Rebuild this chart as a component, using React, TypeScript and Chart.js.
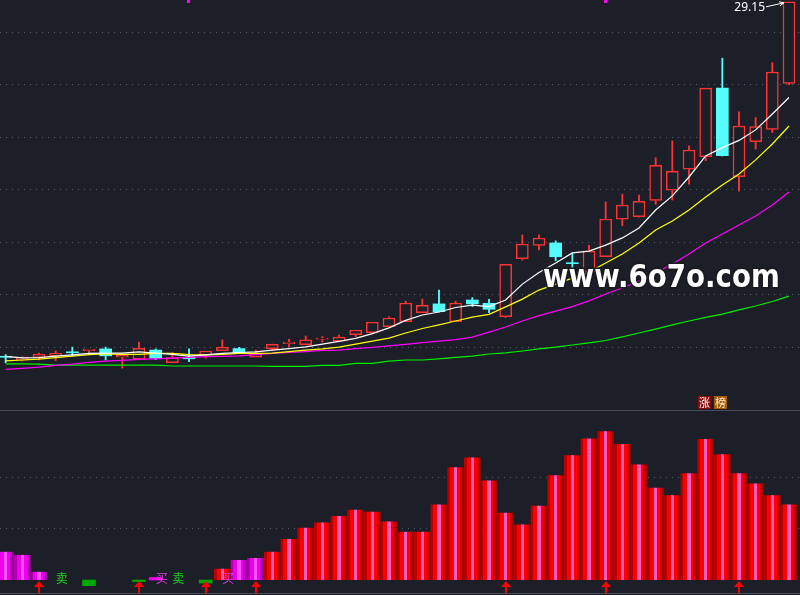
import React, { useEffect, useRef } from "react";
import { Chart, registerables } from "chart.js";

Chart.register(...registerables);

// ---------------- data ----------------
const opens = [17.33, 17.20, 17.29, 17.35, 17.48, 17.52, 17.58, 17.30, 17.24, 17.54, 17.12, 17.30, 17.37, 17.52, 17.59, 17.30, 17.59, 17.75, 17.72, 17.90, 17.84, 18.05, 18.12, 18.32, 18.49, 18.79, 19.08, 18.49, 19.21, 19.10, 18.65, 20.59, 21.03, 21.11, 20.44, 20.15, 20.65, 21.90, 21.99, 22.53, 22.87, 23.57, 23.99, 26.27, 23.32, 24.49, 24.90, 26.43];
const closes = [17.30, 17.29, 17.41, 17.43, 17.45, 17.57, 17.35, 17.37, 17.60, 17.27, 17.29, 17.25, 17.51, 17.63, 17.42, 17.41, 17.73, 17.81, 17.88, 17.94, 17.97, 18.21, 18.47, 18.61, 19.11, 19.03, 18.82, 19.11, 19.08, 18.90, 20.40, 21.07, 21.27, 20.65, 20.42, 20.84, 21.91, 22.37, 22.50, 23.70, 23.50, 24.21, 26.27, 24.02, 25.01, 24.99, 26.81, 29.15];
const highs = [17.39, 17.32, 17.44, 17.51, 17.64, 17.57, 17.64, 17.38, 17.81, 17.58, 17.45, 17.58, 17.51, 17.88, 17.63, 17.54, 17.74, 17.90, 18.01, 17.99, 18.04, 18.21, 18.47, 18.65, 19.17, 19.24, 19.54, 19.17, 19.29, 19.23, 20.40, 21.38, 21.38, 21.18, 20.77, 21.03, 22.48, 22.74, 22.71, 23.95, 24.51, 24.35, 26.27, 27.27, 25.48, 25.29, 27.12, 29.15];
const lows = [17.12, 17.18, 17.21, 17.19, 17.35, 17.43, 17.21, 16.94, 17.24, 17.22, 17.12, 17.15, 17.27, 17.52, 17.42, 17.30, 17.54, 17.65, 17.72, 17.81, 17.84, 17.99, 18.12, 18.32, 18.49, 18.79, 18.81, 18.49, 18.99, 18.79, 18.62, 20.54, 20.88, 20.52, 20.04, 20.14, 20.65, 21.69, 21.97, 22.40, 22.54, 23.07, 23.85, 24.01, 22.84, 24.24, 24.79, 26.39];

const ma5 = [17.33, 17.28, 17.29, 17.34, 17.38, 17.43, 17.44, 17.44, 17.48, 17.44, 17.40, 17.34, 17.38, 17.43, 17.46, 17.48, 17.54, 17.59, 17.65, 17.74, 17.83, 17.93, 18.09, 18.28, 18.53, 18.71, 18.81, 18.96, 19.04, 18.99, 19.21, 19.74, 20.13, 20.44, 20.78, 20.84, 21.04, 21.28, 21.61, 22.21, 22.68, 23.31, 24.01, 24.29, 24.53, 24.88, 25.41, 25.96];
const ma10 = [17.18, 17.21, 17.24, 17.29, 17.34, 17.39, 17.41, 17.40, 17.40, 17.43, 17.43, 17.39, 17.38, 17.40, 17.43, 17.43, 17.44, 17.49, 17.54, 17.58, 17.64, 17.74, 17.84, 17.94, 18.11, 18.26, 18.38, 18.51, 18.64, 18.73, 18.98, 19.24, 19.54, 19.74, 19.94, 20.14, 20.44, 20.74, 21.11, 21.54, 21.84, 22.21, 22.64, 23.04, 23.41, 23.88, 24.41, 25.01];
const ma20 = [16.90, 16.93, 16.97, 17.03, 17.07, 17.13, 17.17, 17.20, 17.23, 17.25, 17.27, 17.30, 17.32, 17.33, 17.35, 17.39, 17.43, 17.46, 17.49, 17.53, 17.54, 17.59, 17.63, 17.68, 17.73, 17.79, 17.84, 17.89, 17.97, 18.14, 18.31, 18.51, 18.69, 18.84, 18.99, 19.18, 19.41, 19.61, 19.84, 20.11, 20.41, 20.74, 21.11, 21.41, 21.71, 22.01, 22.38, 22.81];
const ma60 = [17.08, 17.08, 17.07, 17.04, 17.04, 17.04, 17.04, 17.04, 17.04, 17.04, 17.01, 17.01, 17.01, 17.01, 17.01, 17.01, 17.00, 17.00, 17.00, 17.03, 17.03, 17.10, 17.10, 17.17, 17.21, 17.21, 17.25, 17.30, 17.34, 17.41, 17.45, 17.51, 17.58, 17.64, 17.71, 17.78, 17.86, 17.98, 18.11, 18.24, 18.38, 18.51, 18.63, 18.74, 18.88, 19.01, 19.16, 19.34];

// lower panel indicator bars
const signal = [0.55, 0.49, 0.16, 0, 0, -0.11, 0, 0, -0.03, 0.05, 0, 0, -0.06, 0.22, 0.39, 0.43, 0.55, 0.80, 1.02, 1.12, 1.25, 1.37, 1.33, 1.14, 0.94, 0.94, 1.47, 2.20, 2.39, 1.94, 1.31, 1.08, 1.45, 2.04, 2.43, 2.76, 2.90, 2.65, 2.25, 1.80, 1.65, 2.08, 2.75, 2.45, 2.08, 1.88, 1.65, 1.47];
// R = red wide, M = magenta wide, g = green narrow, m = magenta narrow, - = none
const signalKind = ["M", "M", "M", "-", "-", "g", "-", "-", "g", "m", "-", "-", "g", "R", "M", "M", "R", "R", "R", "R", "R", "R", "R", "R", "R", "R", "R", "R", "R", "R", "R", "R", "R", "R", "R", "R", "R", "R", "R", "R", "R", "R", "R", "R", "R", "R", "R", "R"];

const sellIdx = [3, 10];
const buyIdx = [9, 13];
const arrowIdx = [2, 8, 12, 15, 30, 36, 44];
const topMarkIdx = [11, 36];
const tagIdx = [42, 43];
const tagText = ["涨", "榜"];
const sellText = "卖";
const buyText = "买";
const priceGrid = [17.63, 19.38, 21.13, 22.88, 24.63, 26.38, 28.13];
const signalGrid = [1, 2];
const watermarkText = "www.6o7o.com";

// ---------------- styles ----------------
const BG = "#1c1f27";
const RED = "#ff3333";
const CYAN = "#54fcfc";
const GRID = "#5a5f6a";
const X_MIN = -0.34;
const X_MAX = 47.66;

const RED_STOPS: [number, string][] = [
  [0, "#b80000"], [0.16, "#b80000"], [0.16, "#ff0000"], [0.4, "#ff0000"],
  [0.4, "#ff5cc0"], [0.6, "#ff5cc0"], [0.6, "#ff0000"], [0.76, "#ff0000"],
  [0.76, "#d00000"], [0.88, "#d00000"], [0.88, "#a00000"], [1, "#a00000"],
];
const MAG_STOPS: [number, string][] = [
  [0, "#b000b0"], [0.16, "#b000b0"], [0.16, "#ee00ee"], [0.4, "#ee00ee"],
  [0.4, "#ff50ff"], [0.6, "#ff50ff"], [0.6, "#ee00ee"], [0.76, "#ee00ee"],
  [0.76, "#c000c0"], [0.88, "#c000c0"], [0.88, "#9a009a"], [1, "#9a009a"],
];

export default function App() {
  const topRef = useRef<HTMLCanvasElement | null>(null);
  const botRef = useRef<HTMLCanvasElement | null>(null);

  useEffect(() => {
    const idx = opens.map((_, i) => i);
    const up = idx.filter((i) => closes[i] >= opens[i]);
    const down = idx.filter((i) => closes[i] < opens[i]);

    const line = (vals: number[], color: string) => ({
      type: "line",
      data: vals.map((v, i) => ({ x: i, y: v })),
      borderColor: color,
      borderWidth: 1.2,
      pointRadius: 0,
      tension: 0,
      order: 0,
    });

    const topDecor = {
      id: "topDecor",
      afterDatasetsDraw(chart: any) {
        const { ctx, chartArea } = chart;
        const xs = chart.scales.x;
        const ys = chart.scales.y;
        ctx.save();
        // small magenta marks at the top edge
        ctx.fillStyle = "#ff00ff";
        topMarkIdx.forEach((i) => {
          const px = xs.getPixelForValue(i);
          ctx.fillRect(Math.round(px) - 2, 0, 3, 3);
        });
        // watermark
        ctx.font = "bold 30px 'DejaVu Sans'";
        const w = ctx.measureText(watermarkText).width;
        const size = (30 * 237) / w;
        ctx.font = `bold ${size.toFixed(2)}px 'DejaVu Sans'`;
        ctx.textAlign = "left";
        ctx.textBaseline = "alphabetic";
        ctx.save();
        ctx.translate(chartArea.right - 257, 287);
        ctx.scale(1, 1.15);
        ctx.lineJoin = "round";
        ctx.lineWidth = 3;
        ctx.strokeStyle = "rgba(25,25,30,0.9)";
        ctx.strokeText(watermarkText, 0, 0);
        ctx.fillStyle = "#ffffff";
        ctx.fillText(watermarkText, 0, 0);
        ctx.restore();
        // highest price label
        let mi = 0;
        highs.forEach((h, i) => { if (h > highs[mi]) mi = i; });
        const px = xs.getPixelForValue(mi);
        const py = ys.getPixelForValue(highs[mi]);
        ctx.font = "12px 'Noto Sans'";
        ctx.textAlign = "right";
        ctx.textBaseline = "middle";
        ctx.fillStyle = "#ffffff";
        ctx.fillText(highs[mi].toFixed(2), px - 24, py + 6);
        ctx.strokeStyle = "#ffffff";
        ctx.lineWidth = 1;
        ctx.beginPath();
        ctx.moveTo(px - 23, py + 5);
        ctx.lineTo(px - 5, py + 1);
        ctx.stroke();
        ctx.beginPath();
        ctx.moveTo(px - 5, py + 1);
        ctx.lineTo(px - 10, py);
        ctx.moveTo(px - 5, py + 1);
        ctx.lineTo(px - 9, py + 4);
        ctx.stroke();
        // tags
        const tagBg = ["#8e0a0a", "#a35b0a"];
        const tagFg = ["#ffffff", "#ffe8c8"];
        ctx.font = "11px 'Noto Sans CJK SC'";
        ctx.textAlign = "center";
        ctx.textBaseline = "middle";
        tagIdx.forEach((i, k) => {
          const cx = xs.getPixelForValue(i);
          const left = Math.round(cx - 8);
          const top = chartArea.bottom - 14;
          ctx.fillStyle = tagBg[k];
          ctx.fillRect(left, top, 13, 13);
          ctx.fillStyle = tagFg[k];
          ctx.fillText(tagText[k], left + 6.5, top + 7);
        });
        ctx.restore();
      },
    };

    const top = new Chart(topRef.current as HTMLCanvasElement, {
      type: "bar",
      data: {
        datasets: [
          line(ma5, "#ffffff"),
          line(ma10, "#ffff00"),
          line(ma20, "#ff00ff"),
          line(ma60, "#00ee00"),
          {
            type: "bar",
            data: up.filter((i) => highs[i] > closes[i]).map((i) => ({ x: i, y: [closes[i], highs[i]] })),
            backgroundColor: RED, borderWidth: 0, barThickness: 1.2, grouped: false, order: 3,
          },
          {
            type: "bar",
            data: up.filter((i) => lows[i] < opens[i]).map((i) => ({ x: i, y: [lows[i], opens[i]] })),
            backgroundColor: RED, borderWidth: 0, barThickness: 1.2, grouped: false, order: 3,
          },
          {
            type: "bar",
            data: down.map((i) => ({ x: i, y: [lows[i], highs[i]] })),
            backgroundColor: CYAN, borderWidth: 0, barThickness: 1.2, grouped: false, order: 3,
          },
          {
            type: "bar",
            data: up.map((i) => ({ x: i, y: [opens[i], closes[i]] })),
            backgroundColor: BG, borderColor: RED, borderWidth: 1.5, borderSkipped: false,
            barThickness: 12, grouped: false, order: 2, minBarLength: 1,
          },
          {
            type: "bar",
            data: down.map((i) => ({ x: i, y: [opens[i], closes[i]] })),
            backgroundColor: CYAN, borderWidth: 0, barThickness: 12, grouped: false, order: 2, minBarLength: 1,
          },
        ] as any,
      },
      options: {
        responsive: false,
        maintainAspectRatio: false,
        animation: false,
        events: [],
        layout: { padding: 0 },
        plugins: { legend: { display: false }, tooltip: { enabled: false } },
        scales: {
          x: { type: "linear", min: X_MIN, max: X_MAX, display: false, offset: false },
          y: {
            type: "linear",
            min: 15.543,
            max: 29.21,
            ticks: { display: false },
            afterBuildTicks: (s: any) => { s.ticks = priceGrid.map((v) => ({ value: v })); },
            afterFit: (s: any) => { s.width = 0; },
            grid: { color: GRID, lineWidth: 1, drawTicks: false },
            border: { display: false, dash: [1, 5] },
          },
        },
      } as any,
      plugins: [topDecor],
    });

    // ---------- lower panel ----------
    const wide = idx.filter((i) => signalKind[i] === "R" || signalKind[i] === "M");
    const narrow = idx.filter((i) => signalKind[i] === "g" || signalKind[i] === "m");

    const stripe = (c: any) => {
      const chart = c.chart;
      const xs = chart.scales && chart.scales.x;
      if (!c.raw || !xs) return "#ff0000";
      const i = c.raw.x;
      const cx = xs.getPixelForValue(i);
      if (!isFinite(cx)) return "#ff0000";
      const half = (xs.getPixelForValue(1) - xs.getPixelForValue(0)) / 2;
      const g = chart.ctx.createLinearGradient(cx - half, 0, cx + half, 0);
      const stops = signalKind[i] === "R" ? RED_STOPS : MAG_STOPS;
      stops.forEach(([p, col]) => g.addColorStop(p, col));
      return g;
    };

    const botDecor = {
      id: "botDecor",
      afterDatasetsDraw(chart: any) {
        const { ctx, chartArea } = chart;
        const xs = chart.scales.x;
        const ys = chart.scales.y;
        const y0 = ys.getPixelForValue(0);
        ctx.save();
        // texts
        ctx.font = "12px 'Noto Sans CJK SC'";
        ctx.textAlign = "left";
        ctx.textBaseline = "middle";
        ctx.fillStyle = "#1fd11f";
        sellIdx.forEach((i) => ctx.fillText(sellText, xs.getPixelForValue(i), y0 - 1.5));
        ctx.fillStyle = "#e23ce2";
        buyIdx.forEach((i) => ctx.fillText(buyText, xs.getPixelForValue(i), y0 - 1.5));
        // arrows
        ctx.fillStyle = "#ff0000";
        arrowIdx.forEach((i) => {
          const cx = Math.round(xs.getPixelForValue(i));
          ctx.beginPath();
          ctx.moveTo(cx, y0 + 1);
          ctx.lineTo(cx - 5, y0 + 7);
          ctx.lineTo(cx + 5, y0 + 7);
          ctx.closePath();
          ctx.fill();
          ctx.fillRect(cx - 1, y0 + 7, 2, 6);
        });
        // panel borders
        ctx.strokeStyle = "#474c57";
        ctx.lineWidth = 1;
        ctx.beginPath();
        ctx.moveTo(chartArea.left, chartArea.top + 0.5);
        ctx.lineTo(chartArea.right, chartArea.top + 0.5);
        ctx.moveTo(chartArea.left, chartArea.bottom + 0.5);
        ctx.lineTo(chartArea.right, chartArea.bottom + 0.5);
        ctx.stroke();
        ctx.restore();
      },
    };

    const bottom = new Chart(botRef.current as HTMLCanvasElement, {
      type: "bar",
      data: {
        datasets: [
          {
            type: "bar",
            data: wide.map((i) => ({ x: i, y: signal[i] })),
            backgroundColor: stripe,
            borderWidth: 0,
            barThickness: 16.7,
            grouped: false,
            inflateAmount: 0,
          },
          {
            type: "bar",
            data: narrow.map((i) => ({ x: i, y: signal[i] })),
            backgroundColor: (c: any) => (c.raw && signalKind[c.raw.x] === "g" ? "#00a800" : "#ee00ee"),
            borderWidth: 0,
            barThickness: 13,
            grouped: false,
          },
        ] as any,
      },
      options: {
        responsive: false,
        maintainAspectRatio: false,
        animation: false,
        events: [],
        layout: { padding: { top: 0, left: 0, right: 0, bottom: 2 } },
        plugins: { legend: { display: false }, tooltip: { enabled: false } },
        scales: {
          x: { type: "linear", min: X_MIN, max: X_MAX, display: false, offset: false },
          y: {
            type: "linear",
            min: -0.253,
            max: 3.314,
            ticks: { display: false },
            afterBuildTicks: (s: any) => { s.ticks = signalGrid.map((v) => ({ value: v })); },
            afterFit: (s: any) => { s.width = 0; },
            grid: { color: GRID, lineWidth: 1, drawTicks: false },
            border: { display: false, dash: [1, 5] },
          },
        },
      } as any,
      plugins: [botDecor],
    });

    return () => {
      top.destroy();
      bottom.destroy();
    };
  }, []);

  return (
    <div style={{ position: "fixed", left: 0, top: 0, width: 800, height: 595, background: BG, overflow: "hidden" }}>
      <canvas ref={topRef} width={800} height={410} style={{ position: "absolute", left: 0, top: 0 }} />
      <canvas ref={botRef} width={800} height={185} style={{ position: "absolute", left: 0, top: 410 }} />
    </div>
  );
}
